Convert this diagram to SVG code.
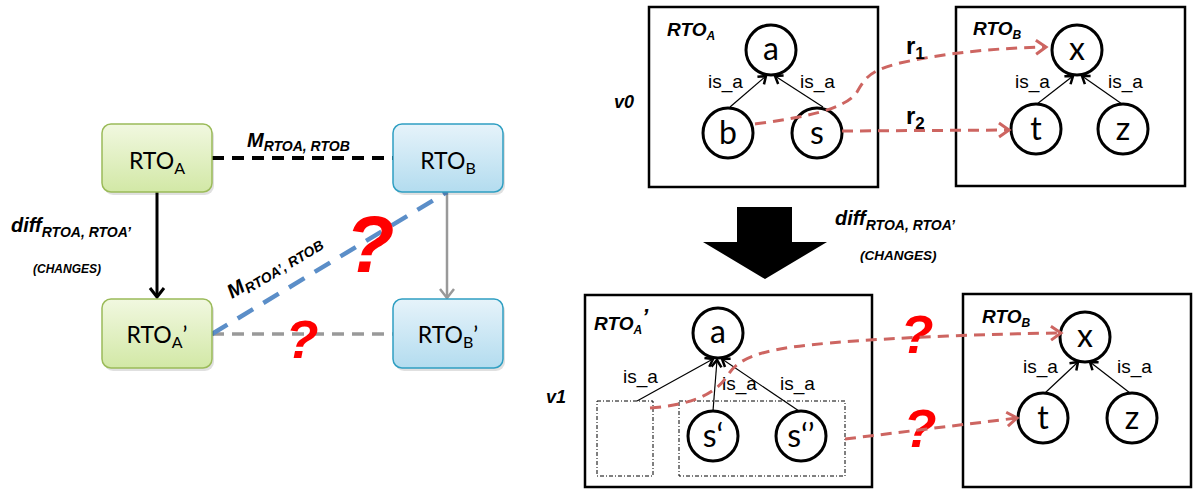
<svg xmlns="http://www.w3.org/2000/svg" width="1193" height="491" viewBox="0 0 1193 491">
<defs>
<linearGradient id="gG" x1="0" y1="0" x2="0" y2="1"><stop offset="0" stop-color="#f1f8e0"/><stop offset="1" stop-color="#d2e8a6"/></linearGradient>
<linearGradient id="gB" x1="0" y1="0" x2="0" y2="1"><stop offset="0" stop-color="#e6f3fa"/><stop offset="1" stop-color="#b3dcef"/></linearGradient>
<marker id="mBlack" markerUnits="userSpaceOnUse" markerWidth="24" markerHeight="24" refX="0" refY="0" viewBox="-12 -12 24 24" orient="auto"><path d="M-9,-7 L0,0 L-9,7" fill="none" stroke="#000" stroke-width="3"/></marker>
<marker id="mGray" markerUnits="userSpaceOnUse" markerWidth="24" markerHeight="24" refX="0" refY="0" viewBox="-12 -12 24 24" orient="auto"><path d="M-9,-7 L0,0 L-9,7" fill="none" stroke="#999" stroke-width="2.5"/></marker>
<marker id="mRed" markerUnits="userSpaceOnUse" markerWidth="24" markerHeight="24" refX="0" refY="0" viewBox="-12 -12 24 24" orient="auto"><path d="M-10,-7 L0,0 L-10,7" fill="none" stroke="#cd6561" stroke-width="3"/></marker>
<marker id="mIs" markerUnits="userSpaceOnUse" markerWidth="16" markerHeight="16" refX="0" refY="0" viewBox="-8 -8 16 16" orient="auto"><path d="M-7,-5 L0,0 L-7,5" fill="none" stroke="#000" stroke-width="2.5"/></marker>
</defs>
<style>
.bx{stroke-width:1.5}
.g{fill:url(#gG);stroke:#9bbb59}
.b{fill:url(#gB);stroke:#2f9fc2}
.shadow{fill:#000;opacity:0.12}
.lbl{font-family:Lato,"Liberation Sans",sans-serif;font-size:23px;fill:#000}
.sub{font-size:16px}
.bi{font-family:"Liberation Sans",Arial,sans-serif;font-weight:bold;font-style:italic;fill:#000}
.q{font-family:"Liberation Sans",Arial,sans-serif;font-weight:bold;font-style:italic;fill:#ff0000;text-anchor:middle}
.frame{fill:#fff;stroke:#000;stroke-width:2.5}
.c{fill:#fff;stroke:#000;stroke-width:3}
.ct{font-family:Lato,"Liberation Sans",sans-serif;font-size:32px;text-anchor:middle;fill:#000}
.isa{font-family:"Liberation Sans",Arial,sans-serif;font-size:19px;fill:#000}
.ia{stroke:#000;stroke-width:1.2;fill:none;marker-end:url(#mIs)}
.rd{stroke:#cd6561;stroke-width:3;fill:none;stroke-dasharray:11,7;marker-end:url(#mRed)}
.dd{fill:none;stroke:#000;stroke-width:1;stroke-dasharray:4,2,1,2}
.r{font-family:"Liberation Sans",Arial,sans-serif;font-weight:bold;font-size:24px;fill:#000}
</style>

<!-- Left diagram connectors -->
<g id="left-connectors">
<line x1="212" y1="158" x2="393" y2="158" stroke="#000" stroke-width="4" stroke-dasharray="12,8"/>
<line x1="157" y1="192" x2="157" y2="297" stroke="#000" stroke-width="3" marker-end="url(#mBlack)"/>
<line x1="447" y1="192" x2="447" y2="298" stroke="#999" stroke-width="2.5" marker-end="url(#mGray)"/>
<line x1="212" y1="334" x2="393" y2="334" stroke="#999" stroke-width="3.5" stroke-dasharray="12,8"/>
<line x1="212" y1="334" x2="447" y2="192" stroke="#5b8ec8" stroke-width="4.5" stroke-dasharray="18,12"/>
</g>

<g id="node-rtoa">
<rect class="shadow" x="104" y="127" width="110" height="68" rx="9"/>
<rect class="bx g" x="102" y="124" width="110" height="68" rx="9"/>
<text class="lbl" x="157" y="169" text-anchor="middle">RTO<tspan class="sub" dy="5">A</tspan></text>
</g>
<g id="node-rtob">
<rect class="shadow" x="395" y="127" width="110" height="68" rx="9"/>
<rect class="bx b" x="393" y="124" width="110" height="68" rx="9"/>
<text class="lbl" x="448" y="169" text-anchor="middle">RTO<tspan class="sub" dy="5">B</tspan></text>
</g>
<g id="node-rtoa2">
<rect class="shadow" x="104" y="302" width="110" height="69" rx="9"/>
<rect class="bx g" x="102" y="299" width="110" height="69" rx="9"/>
<text class="lbl" x="157" y="343" text-anchor="middle">RTO<tspan class="sub" dy="5">A</tspan><tspan dy="-5">’</tspan></text>
</g>
<g id="node-rtob2">
<rect class="shadow" x="395" y="302" width="110" height="69" rx="9"/>
<rect class="bx b" x="393" y="299" width="110" height="69" rx="9"/>
<text class="lbl" x="448" y="343" text-anchor="middle">RTO<tspan class="sub" dy="5">B</tspan><tspan dy="-5">’</tspan></text>
</g>

<g id="left-labels">
<text class="bi" x="247" y="147" font-size="20">M<tspan font-size="14" dy="4">RTOA, RTOB</tspan></text>
<text class="bi" x="11" y="232" font-size="20">diff<tspan font-size="14" dy="5">RTOA, RTOA’</tspan></text>
<text class="bi" x="67" y="273" font-size="12" text-anchor="middle">(CHANGES)</text>
<text class="bi" font-size="20" transform="translate(232,299) rotate(-31)">M<tspan font-size="14" dy="4">RTOA’, RTOB</tspan></text>
<text class="q" x="370" y="272" font-size="80">?</text>
<text class="q" x="302" y="358" font-size="54">?</text>
</g>

<!-- Top right: v0 -->
<text class="bi" x="614" y="108" font-size="18">v0</text>
<g id="frame-v0-a">
<rect class="frame" x="649" y="7" width="229" height="180"/>
<text class="bi" x="667" y="36" font-size="19">RTO<tspan font-size="12" dy="4">A</tspan></text>
</g>
<g id="frame-v0-b">
<rect class="frame" x="956" y="7" width="229" height="179"/>
<text class="bi" x="973" y="35" font-size="19">RTO<tspan font-size="12" dy="4">B</tspan></text>
</g>
<g id="v0-isa">
<line class="ia" x1="730" y1="107" x2="766" y2="76"/>
<line class="ia" x1="823" y1="107" x2="775" y2="76"/>
<text class="isa" x="708" y="88">is_a</text>
<text class="isa" x="800" y="88">is_a</text>
<line class="ia" x1="1037" y1="104" x2="1073" y2="76"/>
<line class="ia" x1="1122" y1="104" x2="1082" y2="76"/>
<text class="isa" x="1015" y="88">is_a</text>
<text class="isa" x="1108" y="88">is_a</text>
</g>
<g id="v0-a"><circle class="c" cx="771" cy="50" r="25"/><text class="ct" x="771" y="60">a</text></g>
<g id="v0-b"><circle class="c" cx="728" cy="133" r="25"/><text class="ct" x="728" y="144">b</text></g>
<g id="v0-s"><circle class="c" cx="817" cy="133" r="25"/><text class="ct" x="817" y="144">s</text></g>
<g id="v0-x"><circle class="c" cx="1077" cy="50" r="25"/><text class="ct" x="1077" y="60">x</text></g>
<g id="v0-t"><circle class="c" cx="1036" cy="129" r="25"/><text class="ct" x="1036" y="140">t</text></g>
<g id="v0-z"><circle class="c" cx="1123" cy="129" r="25"/><text class="ct" x="1123" y="140">z</text></g>
<g id="v0-maps">
<path class="rd" d="M755,124 C800,118 845,110 857,92 C866,76 872,70 900,63 C950,52 1000,48 1046,47"/>
<line class="rd" x1="842" y1="131" x2="1009" y2="130"/>
<text class="r" x="906" y="54">r<tspan font-size="17" dy="5">1</tspan></text>
<text class="r" x="906" y="124">r<tspan font-size="17" dy="5">2</tspan></text>
</g>

<!-- Big arrow -->
<g id="big-arrow">
<polygon points="737,207 792,207 792,242 827,242 765,279 703,242 737,242" fill="#000"/>
<text class="bi" x="835" y="225" font-size="20">diff<tspan font-size="14" dy="5">RTOA, RTOA’</tspan></text>
<text class="bi" x="860" y="260" font-size="13.5">(CHANGES)</text>
</g>

<!-- Bottom right: v1 -->
<text class="bi" x="546" y="403" font-size="18">v1</text>
<g id="frame-v1-a">
<rect class="frame" x="585" y="295" width="287" height="192"/>
<text class="bi" x="594" y="330" font-size="19">RTO<tspan font-size="12" dy="4">A</tspan><tspan font-size="22" dy="-10">’</tspan></text>
</g>
<g id="frame-v1-b">
<rect class="frame" x="963" y="294" width="228" height="193"/>
<text class="bi" x="982" y="323" font-size="19">RTO<tspan font-size="12" dy="4">B</tspan></text>
</g>
<g id="v1-groups">
<rect class="dd" x="597" y="401" width="56" height="75"/>
<rect class="dd" x="679" y="401" width="166" height="75"/>
</g>
<g id="v1-isa">
<line class="ia" x1="637" y1="401" x2="713" y2="359"/>
<line class="ia" x1="713" y1="411" x2="717" y2="360"/>
<line class="ia" x1="799" y1="411" x2="722" y2="359"/>
<text class="isa" x="623" y="383">is_a</text>
<text class="isa" x="722" y="390">is_a</text>
<text class="isa" x="780" y="390">is_a</text>
<line class="ia" x1="1045" y1="393" x2="1078" y2="362"/>
<line class="ia" x1="1130" y1="393" x2="1090" y2="362"/>
<text class="isa" x="1023" y="373">is_a</text>
<text class="isa" x="1117" y="373">is_a</text>
</g>
<g id="v1-a"><circle class="c" cx="718" cy="333" r="25"/><text class="ct" x="718" y="343">a</text></g>
<g id="v1-s1"><circle class="c" cx="713" cy="436" r="25"/><text class="ct" x="713" y="447">s‘</text></g>
<g id="v1-s2"><circle class="c" cx="801" cy="436" r="25"/><text class="ct" x="801" y="447">s‘’</text></g>
<g id="v1-x"><circle class="c" cx="1085" cy="337" r="25"/><text class="ct" x="1085" y="347">x</text></g>
<g id="v1-t"><circle class="c" cx="1043" cy="418" r="25"/><text class="ct" x="1043" y="429">t</text></g>
<g id="v1-z"><circle class="c" cx="1132" cy="418" r="25"/><text class="ct" x="1132" y="429">z</text></g>
<g id="v1-maps">
<text class="q" x="917" y="353" font-size="54">?</text>
<text class="q" x="920" y="447" font-size="54">?</text>
<path class="rd" d="M650,408 C690,405 715,395 728,375 C740,355 770,348 830,343 C900,337 990,334 1061,333"/>
<line class="rd" x1="845" y1="439" x2="1017" y2="418"/>
</g>
</svg>
